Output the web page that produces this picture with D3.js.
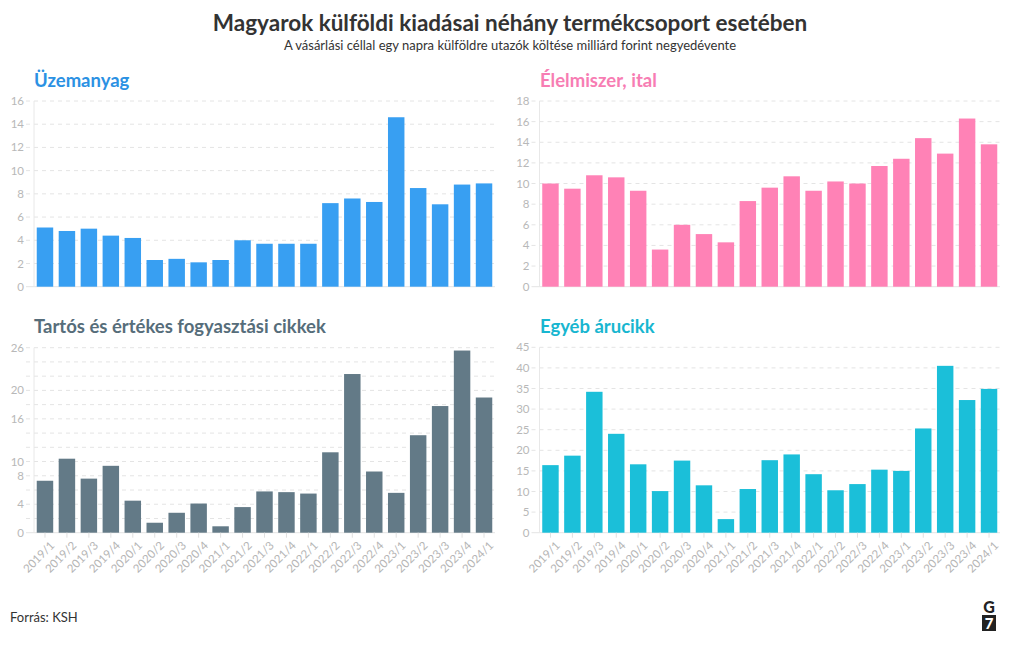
<!DOCTYPE html>
<html>
<head>
<meta charset="utf-8">
<script src="https://cdn.jsdelivr.net/npm/d3@7"></script>
<style>
  html, body { margin: 0; padding: 0; background: #fff; }
  svg { display: block; font-family: "Source Sans Pro", Lato, "Noto Sans", sans-serif; }
</style>
</head>
<body>
<svg id="chart" width="1020" height="650"></svg>
<script>
const quarters = ["2019/1","2019/2","2019/3","2019/4","2020/1","2020/2","2020/3","2020/4",
  "2021/1","2021/2","2021/3","2021/4","2022/1","2022/2","2022/3","2022/4",
  "2023/1","2023/2","2023/3","2023/4","2024/1"];

const uzemanyag = [5.1,4.8,5.0,4.4,4.2,2.3,2.4,2.1,2.3,4.0,3.7,3.7,3.7,7.2,7.6,7.3,14.6,8.5,7.1,8.8,8.9];
const elelmiszer = [10.0,9.5,10.8,10.6,9.3,3.6,6.0,5.1,4.3,8.3,9.6,10.7,9.3,10.2,10.0,11.7,12.4,14.4,12.9,16.3,13.8];
const tartos = [7.3,10.4,7.6,9.4,4.5,1.4,2.8,4.1,0.9,3.6,5.8,5.7,5.5,11.3,22.3,8.6,5.6,13.7,17.8,25.6,19.0];
const egyeb = [16.4,18.7,34.2,24.0,16.6,10.1,17.5,11.5,3.3,10.6,17.6,19.0,14.2,10.3,11.8,15.3,15.0,25.3,40.5,32.2,34.9];

const titles = ["Üzemanyag","Élelmiszer, ital","Tartós és értékes fogyasztási cikkek","Egyéb árucikk"];
const yMax = [16,18,26,45];
const yTickLabels = [[0,2,4,6,8,10,12,14,16],[0,2,4,6,8,10,12,14,16,18],[0,4,8,10,16,20,26],[0,5,10,15,20,25,30,35,40,45]];
const yGrid = [[0,2,4,6,8,10,12,14,16],[0,2,4,6,8,10,12,14,16,18],[0,2,4,6,8,10,12,14,16,18,20,22,24,26],[0,5,10,15,20,25,30,35,40,45]];

const barColors = ["#389ff2","#ff82b6","#637a87","#1bbfd9"];
const titleColors = ["#2b91e3","#f77db3","#566d7a","#18b6d0"];

const panels = [
  {vals: uzemanyag, x0: 34, x1: 495, yb: 286.7, yt: 101, tx: 34, ty: 87, xlabels: false},
  {vals: elelmiszer, x0: 539.5, x1: 1000, yb: 286.7, yt: 101, tx: 540, ty: 87, xlabels: false},
  {vals: tartos, x0: 34, x1: 495, yb: 532.7, yt: 347.7, tx: 34, ty: 333, xlabels: true},
  {vals: egyeb, x0: 539.5, x1: 1000, yb: 532.7, yt: 347.3, tx: 540, ty: 333, xlabels: true}
];

const svg = d3.select("#chart");

svg.append("text").attr("x", 510).attr("y", 31).attr("text-anchor", "middle")
  .attr("font-size", 22.5).attr("font-weight", 700).attr("fill", "#333")
  .text("Magyarok külföldi kiadásai néhány termékcsoport esetében");
svg.append("text").attr("x", 510).attr("y", 50).attr("text-anchor", "middle")
  .attr("font-size", 13).attr("fill", "#333")
  .text("A vásárlási céllal egy napra külföldre utazók költése milliárd forint negyedévente");

panels.forEach((p, i) => {
  const g = svg.append("g");
  const x = d3.scaleBand().domain(quarters).range([p.x0, p.x1]).paddingInner(0.25).paddingOuter(0.125);
  const y = d3.scaleLinear().domain([0, yMax[i]]).range([p.yb, p.yt]);

  g.append("text").attr("x", p.tx).attr("y", p.ty).attr("font-size", 18.5).attr("font-weight", 700)
    .attr("fill", titleColors[i]).text(titles[i]);

  // gridlines
  g.selectAll("line.grid").data(yGrid[i]).join("line").attr("class", "grid")
    .attr("x1", p.x0 - 8).attr("x2", p.x1)
    .attr("y1", d => y(d)).attr("y2", d => y(d))
    .attr("stroke", "#e4e4e4").attr("stroke-width", 1)
    .attr("stroke-dasharray", d => d === 0 ? null : "4,4");

  // vertical axis line
  g.append("line").attr("x1", p.x0).attr("x2", p.x0).attr("y1", p.yt).attr("y2", p.yb)
    .attr("stroke", "#e8e8e8");

  // y labels
  g.selectAll("text.yl").data(yTickLabels[i]).join("text").attr("class", "yl")
    .attr("x", p.x0 - 10).attr("y", d => y(d)).attr("dy", "0.35em")
    .attr("text-anchor", "end").attr("font-size", 11.5).attr("fill", "#b8b8b8")
    .text(d => d);

  // bars
  g.selectAll("rect").data(p.vals).join("rect")
    .attr("x", (d, j) => x(quarters[j])).attr("width", x.bandwidth())
    .attr("y", d => y(d)).attr("height", d => p.yb - y(d))
    .attr("fill", barColors[i]);

  if (p.xlabels) {
    const xa = g.append("g").attr("transform", `translate(0,${p.yb})`)
      .call(d3.axisBottom(x).tickSize(5).tickPadding(6));
    xa.select(".domain").remove();
    xa.selectAll(".tick line").attr("stroke", "#e0e0e0");
    xa.selectAll(".tick text").attr("font-size", 11.5).attr("fill", "#b5b5b5")
      .attr("font-family", "\"Source Sans Pro\", Lato, sans-serif")
      .attr("text-anchor", "end").attr("dx", "-0.2em").attr("dy", "0.5em")
      .attr("transform", "rotate(-45)");
  }
});

svg.append("text").attr("x", 10).attr("y", 622).attr("font-size", 13).attr("fill", "#333").text("Forrás: KSH");

// G7 logo
svg.append("text").attr("x", 989).attr("y", 613).attr("text-anchor", "middle").attr("font-size", 16)
  .attr("font-weight", 900).attr("fill", "#222").text("G");
svg.append("rect").attr("x", 982).attr("y", 615).attr("width", 14).attr("height", 16).attr("fill", "#222");
svg.append("text").attr("x", 989).attr("y", 629).attr("text-anchor", "middle").attr("font-size", 15)
  .attr("font-weight", 900).attr("fill", "#fff").text("7");
</script>
</body>
</html>
